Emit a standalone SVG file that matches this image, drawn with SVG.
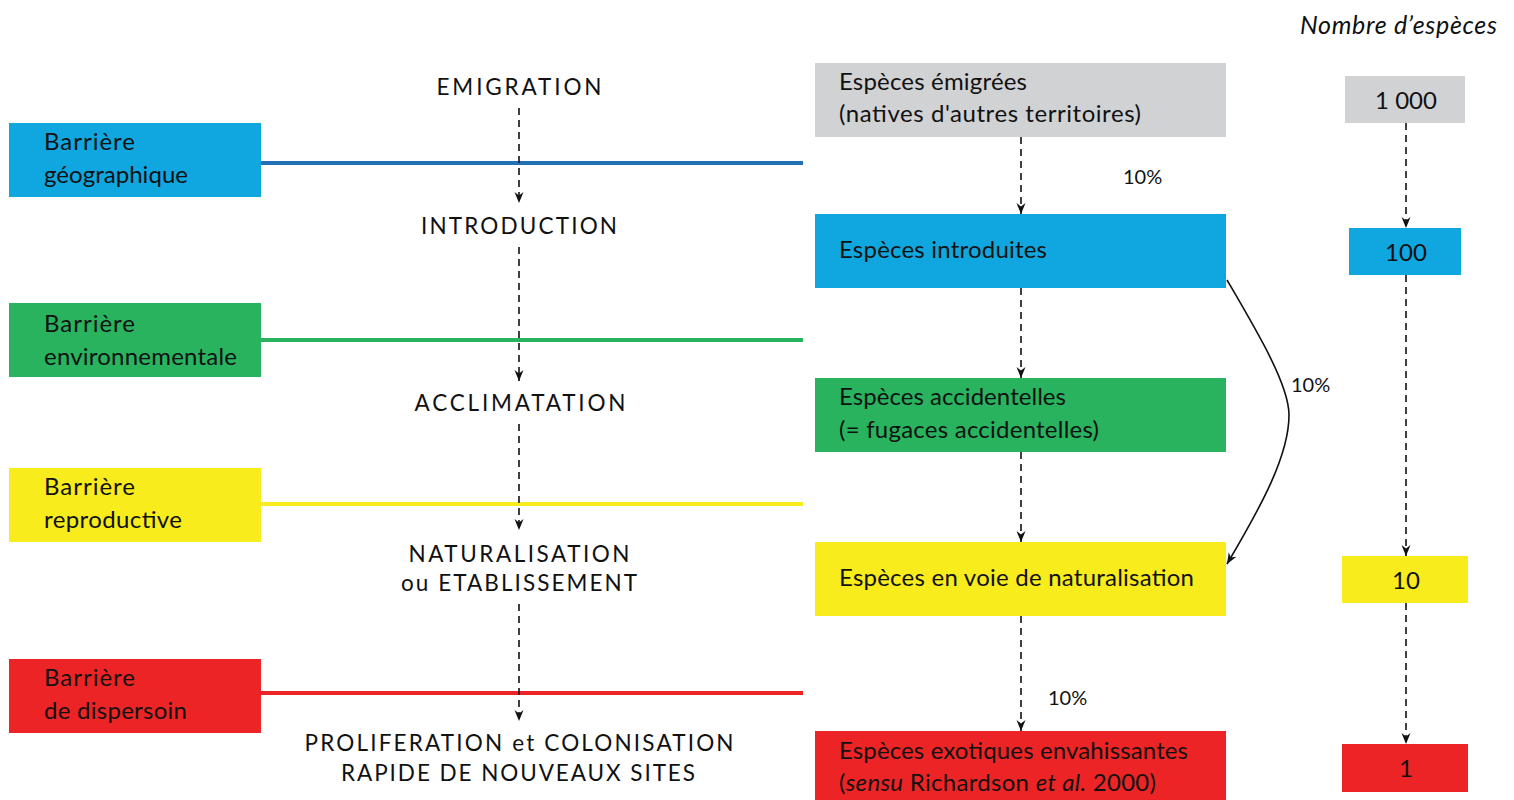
<svg xmlns="http://www.w3.org/2000/svg" width="1514" height="800" viewBox="0 0 1514 800">
<style>
text{font-family:Lato,"Open Sans","Liberation Sans",sans-serif;fill:#111}
.t{font-size:24px}
.cap{font-size:22.5px;text-anchor:middle}
.pct{font-size:20px}
.num{font-size:24px;text-anchor:middle}
.dash{stroke:#111;stroke-width:1.6;stroke-dasharray:7,5;fill:none}
.bar{stroke-width:4;fill:none}
.gray{fill:#d1d2d4}.blue{fill:#10a6df}.green{fill:#29b35f}.yellow{fill:#f8ec1c}.red{fill:#ec2426}
</style>
<defs>
<marker id="ah" viewBox="-12 -6 14 12" markerWidth="14" markerHeight="12" refX="0" refY="0" orient="auto" markerUnits="userSpaceOnUse">
<path d="M0,0 L-11,-4.5 L-7.5,0 L-11,4.5 Z" fill="#111"/>
</marker>
</defs>

<g id="barrier-geo"><rect class="blue" x="9" y="123" width="252" height="74"/><text class="t" x="44" y="150" textLength="91">Barrière</text><text class="t" x="44" y="183" textLength="144">géographique</text></g>
<g id="barrier-env"><rect class="green" x="9" y="303" width="252" height="74"/><text class="t" x="44" y="332" textLength="91">Barrière</text><text class="t" x="44" y="365" textLength="193">environnementale</text></g>
<g id="barrier-repro"><rect class="yellow" x="9" y="468" width="252" height="74"/><text class="t" x="44" y="495" textLength="91">Barrière</text><text class="t" x="44" y="528" textLength="138">reproductive</text></g>
<g id="barrier-disp"><rect class="red" x="9" y="659" width="252" height="74"/><text class="t" x="44" y="686" textLength="91">Barrière</text><text class="t" x="44" y="719" textLength="143">de dispersoin</text></g>

<g id="stage-emigration"><text class="cap" x="519" y="95" textLength="165" lengthAdjust="spacing">EMIGRATION</text></g>
<g id="stage-introduction"><text class="cap" x="519" y="234" textLength="196" lengthAdjust="spacing">INTRODUCTION</text></g>
<g id="stage-acclimatation"><text class="cap" x="520" y="411" textLength="211" lengthAdjust="spacing">ACCLIMATATION</text></g>
<g id="stage-naturalisation"><text class="cap" x="519" y="562" textLength="221" lengthAdjust="spacing">NATURALISATION</text><text class="cap" x="519" y="591" textLength="236" lengthAdjust="spacing">ou ETABLISSEMENT</text></g>
<g id="stage-proliferation"><text class="cap" x="519" y="751" textLength="429" lengthAdjust="spacing">PROLIFERATION et COLONISATION</text><text class="cap" x="518" y="781" textLength="354" lengthAdjust="spacing">RAPIDE DE NOUVEAUX SITES</text></g>

<g id="sp-emigrees"><rect class="gray" x="815" y="63" width="411" height="74"/><text class="t" x="839" y="90" textLength="188">Espèces émigrées</text><text class="t" x="839" y="122" textLength="302">(natives d'autres territoires)</text></g>
<g id="sp-introduites"><rect class="blue" x="815" y="214" width="411" height="74"/><text class="t" x="839" y="258" textLength="208">Espèces introduites</text></g>
<g id="sp-accidentelles"><rect class="green" x="815" y="378" width="411" height="74"/><text class="t" x="839" y="405" textLength="227">Espèces accidentelles</text><text class="t" x="839" y="438" textLength="260">(= fugaces accidentelles)</text></g>
<g id="sp-naturalisation"><rect class="yellow" x="815" y="542" width="411" height="74"/><text class="t" x="839" y="586" textLength="355">Espèces en voie de naturalisation</text></g>
<g id="sp-envahissantes"><rect class="red" x="815" y="731" width="411" height="69"/><text class="t" x="839" y="759" textLength="349">Espèces exotiques envahissantes</text><text class="t" x="839" y="791" textLength="317">(<tspan font-style="italic">sensu</tspan> Richardson <tspan font-style="italic">et al.</tspan> 2000)</text></g>

<g id="count-title"><text x="1497" y="34" font-size="25" font-style="italic" text-anchor="end" textLength="197">Nombre d’espèces</text></g>
<g id="n1000"><rect class="gray" x="1345" y="76" width="120" height="47"/><text class="num" x="1406" y="109">1 000</text></g>
<g id="n100"><rect class="blue" x="1349" y="228" width="112" height="47"/><text class="num" x="1406" y="261">100</text></g>
<g id="n10"><rect class="yellow" x="1342" y="556" width="126" height="47"/><text class="num" x="1406" y="589">10</text></g>
<g id="n1"><rect class="red" x="1342" y="744" width="126" height="48"/><text class="num" x="1406" y="777">1</text></g>

<g id="connectors">
<line class="bar" stroke="#2470b7" x1="261" y1="163" x2="803" y2="163"/>
<line class="bar" stroke="#29b35f" x1="261" y1="340" x2="803" y2="340"/>
<line class="bar" stroke="#f8ec1c" x1="261" y1="504" x2="803" y2="504"/>
<line class="bar" stroke="#ec2426" x1="261" y1="693" x2="803" y2="693"/>

<line class="dash" x1="519" y1="108" x2="519" y2="203" marker-end="url(#ah)"/>
<line class="dash" x1="519" y1="247" x2="519" y2="381" marker-end="url(#ah)"/>
<line class="dash" x1="519" y1="424" x2="519" y2="530" marker-end="url(#ah)"/>
<line class="dash" x1="519" y1="604" x2="519" y2="721" marker-end="url(#ah)"/>

<line class="dash" x1="1021" y1="137" x2="1021" y2="214" marker-end="url(#ah)"/>
<line class="dash" x1="1021" y1="288" x2="1021" y2="378" marker-end="url(#ah)"/>
<line class="dash" x1="1021" y1="452" x2="1021" y2="542" marker-end="url(#ah)"/>
<line class="dash" x1="1021" y1="616" x2="1021" y2="731" marker-end="url(#ah)"/>

<line class="dash" x1="1406" y1="123" x2="1406" y2="228" marker-end="url(#ah)"/>
<line class="dash" x1="1406" y1="275" x2="1406" y2="556" marker-end="url(#ah)"/>
<line class="dash" x1="1406" y1="603" x2="1406" y2="744" marker-end="url(#ah)"/>

<path d="M1227,280 C1258,333 1289,385 1289,415 C1289,455 1262,505 1227,564" fill="none" stroke="#111" stroke-width="1.6" marker-end="url(#ah)"/>

<text class="pct" x="1123" y="184">10%</text>
<text class="pct" x="1291" y="392">10%</text>
<text class="pct" x="1048" y="705">10%</text>
</g>
</svg>
